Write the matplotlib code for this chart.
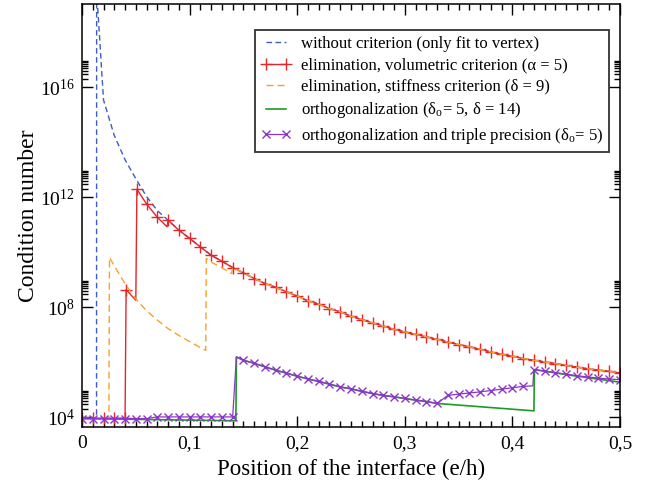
import matplotlib
import numpy as np

matplotlib.use("Agg")
import matplotlib.pyplot as plt
from matplotlib.ticker import FixedLocator, MultipleLocator, FixedFormatter

# shared descending branch, x = 0.08 .. 0.50 (log10 of condition number)
main_x = [0.08, 0.09, 0.10, 0.11, 0.12, 0.13, 0.14, 0.15, 0.16, 0.17, 0.18,
          0.19, 0.20, 0.21, 0.22, 0.23, 0.24, 0.25, 0.26, 0.27, 0.28, 0.29,
          0.30, 0.31, 0.32, 0.33, 0.34, 0.35, 0.36, 0.37, 0.38, 0.39, 0.40,
          0.41, 0.42, 0.43, 0.44, 0.45, 0.46, 0.47, 0.48, 0.49, 0.50]
main_logy = [11.16, 10.80, 10.50, 10.19, 9.89, 9.67, 9.44, 9.25, 9.04, 8.86,
             8.72, 8.56, 8.40, 8.23, 8.11, 7.95, 7.83, 7.67, 7.55, 7.43, 7.31,
             7.19, 7.10, 7.01, 6.92, 6.83, 6.73, 6.64, 6.56, 6.47, 6.37, 6.29,
             6.22, 6.13, 6.07, 6.01, 5.95, 5.88, 5.82, 5.76, 5.71, 5.67, 5.61]

# without criterion (only fit to vertex)
blue_x = [0.0, 0.01, 0.0135, 0.0136, 0.02, 0.03, 0.04, 0.05, 0.06, 0.07]
blue_logy = [3.96, 3.96, 3.96, 19.5, 15.53, 14.24, 13.36, 12.67, 12.02, 11.51]

# elimination, volumetric criterion
red_x = [0.0, 0.01, 0.02, 0.03, 0.04, 0.041, 0.05, 0.051, 0.06, 0.07, 0.079]
red_logy = [3.96, 3.96, 3.96, 3.96, 3.96, 8.64, 8.25, 12.29, 11.75, 11.27, 10.92]
red_mark = [True, True, True, True, True, True, False, True, True, True, False]

# elimination, stiffness criterion
orange_x = [0.0, 0.01, 0.02, 0.025, 0.0255, 0.03, 0.04, 0.05, 0.06, 0.07,
            0.08, 0.09, 0.10, 0.11, 0.115, 0.1155, 0.12, 0.13, 0.139]
orange_logy = [3.96, 3.96, 3.96, 3.96, 9.81, 9.50, 8.85, 8.30, 7.87, 7.53,
               7.22, 6.97, 6.75, 6.53, 6.43, 9.77, 9.64, 9.43, 9.22]

# orthogonalization
green_x = [0.0, 0.143, 0.1435, 0.15, 0.16, 0.17, 0.18, 0.19, 0.20, 0.21,
           0.22, 0.23, 0.24, 0.25, 0.26, 0.27, 0.28, 0.29, 0.30, 0.31, 0.32,
           0.33, 0.42, 0.4205, 0.43, 0.44, 0.45, 0.46, 0.47, 0.48, 0.49, 0.50]
green_logy = [3.95, 3.87, 6.19, 6.07, 5.96, 5.83, 5.71, 5.60, 5.49, 5.39,
              5.30, 5.20, 5.10, 5.03, 4.94, 4.86, 4.79, 4.74, 4.68, 4.62, 4.57,
              4.50, 4.23, 5.73, 5.67, 5.61, 5.55, 5.49, 5.44, 5.38, 5.33, 5.27]

# orthogonalization and triple precision
purple_x = [0.0, 0.01, 0.02, 0.03, 0.04, 0.05, 0.06, 0.07, 0.08, 0.09, 0.10,
            0.11, 0.12, 0.13, 0.14, 0.1435, 0.15, 0.16, 0.17, 0.18, 0.19,
            0.20, 0.21, 0.22, 0.23, 0.24, 0.25, 0.26, 0.27, 0.28, 0.29, 0.30,
            0.31, 0.32, 0.33, 0.34, 0.35, 0.36, 0.37, 0.38, 0.39, 0.40, 0.41,
            0.419, 0.42, 0.43, 0.44, 0.45, 0.46, 0.47, 0.48, 0.49, 0.50]
purple_logy = [3.95, 3.95, 3.95, 3.95, 3.95, 3.95, 3.95, 4.01, 4.01, 4.01,
               4.01, 4.01, 4.01, 4.01, 4.01, 6.19, 6.07, 5.96, 5.83, 5.71,
               5.60, 5.49, 5.39, 5.30, 5.20, 5.10, 5.03, 4.94, 4.86, 4.79,
               4.74, 4.68, 4.62, 4.57, 4.50, 4.79, 4.84, 4.88, 4.92, 4.97,
               5.02, 5.07, 5.12, 5.14, 5.73, 5.68, 5.62, 5.56, 5.51, 5.46,
               5.42, 5.39, 5.36]

x_ticks = [0.0, 0.1, 0.2, 0.3, 0.4, 0.5]
x_tick_labels = ["0", "0,1", "0,2", "0,3", "0,4", "0,5"]
y_major = [1e4, 1e8, 1e12, 1e16]
y_tick_labels = ["10$^{4}$", "10$^{8}$", "10$^{12}$", "10$^{16}$"]

plt.rcParams["font.family"] = ["Liberation Serif", "DejaVu Serif"]
plt.rcParams["mathtext.fontset"] = "custom"
plt.rcParams["mathtext.rm"] = "Liberation Serif"
plt.rcParams["mathtext.it"] = "Liberation Serif:italic"

C_BLUE = "#3d5cc4"
C_RED = "#e3262a"
C_ORANGE = "#f7a12b"
C_GREEN = "#1c9c25"
C_PURPLE = "#8e35c9"

fig = plt.figure(figsize=(6.54, 4.88), dpi=100)
ax = fig.add_axes([0.1254, 0.125, 0.8226, 0.8668])

main_x = np.array(main_x)
main_y = 10 ** np.array(main_logy)

bx = np.concatenate([blue_x, main_x])
by = np.concatenate([10 ** np.array(blue_logy), main_y])
ax.plot(bx, by, ls=(0, (4, 2.5)), color=C_BLUE, lw=1.0,
        label="without criterion (only fit to vertex)")

rx = np.concatenate([red_x, main_x])
ry = np.concatenate([10 ** np.array(red_logy), main_y])
rmask = red_mark + [True] * len(main_x)
ax.plot(rx, ry, color=C_RED, lw=1.0, marker="+", ms=9, mew=1.0,
        markevery=rmask,
        label="elimination, volumetric criterion (\u03b1 = 5)")

ox = np.concatenate([orange_x, main_x[6:]])
oy = np.concatenate([10 ** np.array(orange_logy), main_y[6:]])
ax.plot(ox, oy, ls=(0, (5, 3)), color=C_ORANGE, lw=1.0,
        label="elimination, stiffness criterion (\u03b4 = 9)")

ax.plot(green_x, 10 ** np.array(green_logy), color=C_GREEN, lw=1.2,
        label="orthogonalization (\u03b4$_{\\mathrm{o}}$= 5, \u03b4 = 14)")

pmask = [not (x in (0.1435, 0.419)) for x in purple_x]
ax.plot(purple_x, 10 ** np.array(purple_logy), color=C_PURPLE, lw=0.9,
        marker="x", ms=6, mew=1.0, markevery=pmask,
        label="orthogonalization and triple precision (\u03b4$_{\\mathrm{o}}$= 5)")

ax.set_yscale("log")
ax.set_xlim(0, 0.5)
ax.set_ylim(4.4e3, 1.05e19)

ax.xaxis.set_major_locator(FixedLocator(x_ticks))
ax.xaxis.set_major_formatter(FixedFormatter(x_tick_labels))
ax.xaxis.set_minor_locator(MultipleLocator(0.01))
ax.yaxis.set_major_locator(FixedLocator(y_major))
ax.yaxis.set_major_formatter(FixedFormatter(y_tick_labels))
minors = [k * m for m in y_major for k in range(2, 10)]
ax.yaxis.set_minor_locator(FixedLocator(minors))
ax.yaxis.set_minor_formatter(FixedFormatter([""] * len(minors)))

ax.tick_params(which="both", direction="in", top=True, right=True,
               width=1.0, labelsize=14)
ax.tick_params(axis="x", pad=6)
ax.tick_params(axis="y", pad=5)
ax.tick_params(which="major", length=8)
ax.tick_params(which="minor", length=4)
for s in ax.spines.values():
    s.set_linewidth(1.1)

ax.set_xlabel("Position of the interface (e/h)", fontsize=16.5)
ax.set_ylabel("Condition number", fontsize=17)
ax.xaxis.set_label_coords(0.5, -0.075)
ax.yaxis.set_label_coords(-0.08, 0.5)

leg = ax.legend(loc="upper right", bbox_to_anchor=(0.9796, 0.9385),
                prop={"size": 12}, numpoints=2, handlelength=1.8,
                fancybox=False, framealpha=1, edgecolor="#333333",
                borderaxespad=0, borderpad=0.35, labelspacing=0.33,
                handletextpad=0.6)
leg.get_frame().set_linewidth(1.3)

fig.savefig("out.png", dpi=100)
